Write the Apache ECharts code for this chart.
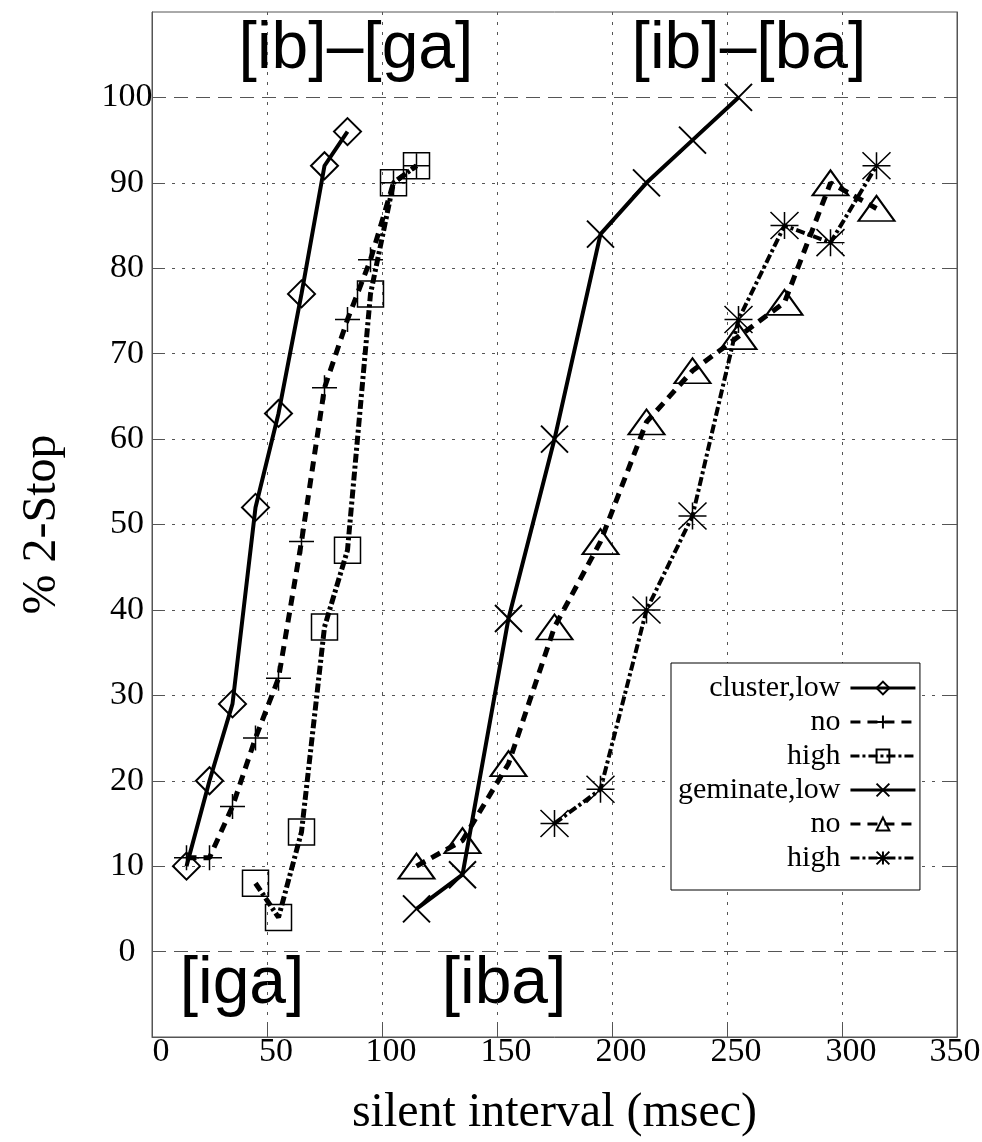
<!DOCTYPE html>
<html>
<head>
<meta charset="utf-8">
<script src="https://cdn.jsdelivr.net/npm/echarts@6/dist/echarts.min.js"></script>
<style>
  html, body { margin: 0; padding: 0; background: #fff; }
  #chart { width: 982px; height: 1142px; }
</style>
</head>
<body>
<div id="chart"></div>
<script>
// silent interval (msec) for each series
var clusterLowX = [15, 25, 35, 45, 55, 65, 75, 85];
var clusterNoX = [15, 25, 35, 45, 55, 65, 75, 85, 95, 105, 115];
var clusterHighX = [45, 55, 65, 75, 85, 95, 105, 115];
var geminateLowX = [115, 135, 155, 175, 195, 215, 235, 255];
var geminateNoX = [115, 135, 155, 175, 195, 215, 235, 255, 275, 295, 315];
var geminateHighX = [175, 195, 215, 235, 255, 275, 295, 315];

// % 2-Stop
var clusterLow = [10, 20, 29, 52, 63, 77, 92, 96];
var clusterNo = [11, 11, 17, 25, 32, 48, 66, 74, 81, 90, 92];
var clusterHigh = [8, 4, 14, 38, 47, 77, 90, 92];
var geminateLow = [5, 9, 39, 60, 84, 90, 95, 100];
var geminateNo = [10, 13, 22, 38, 48, 62, 68, 72, 76, 90, 87];
var geminateHigh = [15, 19, 40, 51, 74, 85, 83, 92];

var yLabels = [0, 10, 20, 30, 40, 50, 60, 70, 80, 90, 100];
var yInnerTicks = [10, 20, 30, 40, 50, 60, 70, 80, 90];
var yDashed = [0, 100];

var serif = '"Liberation Serif", "DejaVu Serif", serif';
var sans = '"Liberation Sans", Arial, sans-serif';
var grey = '#555';

function pairs(xs, ys) {
    return xs.map(function (x, i) { return [x, ys[i]]; });
}

function mkSeries(name, xs, ys, symbol, size, lineType, lineWidth, borderWidth) {
    return {
        name: name,
        type: 'line',
        data: pairs(xs, ys),
        symbol: symbol,
        symbolSize: size,
        showAllSymbol: true,
        itemStyle: { color: 'rgba(0,0,0,0)', borderColor: '#000', borderWidth: borderWidth },
        lineStyle: { color: '#000', width: lineWidth, type: lineType, cap: 'butt' },
        emphasis: { disabled: true }
    };
}

function label(text, x, y) {
    return {
        type: 'text', x: x, y: y,
        style: {
            text: text, font: '66px ' + sans, fill: '#000',
            align: 'center', verticalAlign: 'middle',
            textAlign: 'center', textVerticalAlign: 'middle'
        }
    };
}

var plusPath = 'path://M0,10L20,10M10,0L10,20';
var crossPath = 'path://M0,0L20,20M20,0L0,20';
var starPath = 'path://M0,0L20,20M20,0L0,20M10,0L10,20M0,10L20,10';
var dashed = [10, 7];
var dashDot = [9, 3, 3, 3];

var chart = echarts.init(document.getElementById('chart'));
chart.setOption({
    animation: false,
    backgroundColor: '#fff',
    grid: {
        left: 152, right: 25, top: 12, bottom: 105,
        show: true, borderColor: grey, borderWidth: 1,
        outerBoundsMode: 'none'
    },
    legend: {
        orient: 'vertical',
        align: 'right',
        left: 671,
        top: 663,
        padding: [10, 3, 17, 7],
        itemGap: 4,
        itemWidth: 65,
        itemHeight: 16,
        borderColor: '#000',
        borderWidth: 1,
        backgroundColor: '#fff',
        lineStyle: { width: 3 },
        textStyle: { fontFamily: serif, fontSize: 30, color: '#000', padding: [0, 5, 0, 0] },
        formatter: function (name) {
            return /low$/.test(name) ? name : name.split(',')[1];
        }
    },
    xAxis: {
        type: 'value',
        min: 0, max: 350, interval: 50,
        name: 'silent interval (msec)',
        nameLocation: 'middle',
        nameGap: 52,
        nameTextStyle: { fontFamily: serif, fontSize: 48, color: '#000' },
        axisLine: { onZero: false, lineStyle: { color: grey, width: 1 } },
        axisTick: { inside: true, length: 14, lineStyle: { color: grey } },
        axisLabel: {
            fontFamily: serif, fontSize: 34, color: '#000', margin: -2,
            padding: [0, 0, 0, 18],
            formatter: function (v) { return v === 350 ? '{m|350}' : String(v); },
            rich: { m: { fontFamily: serif, fontSize: 34, color: '#000', padding: [0, 22, 0, 0] } }
        },
        splitLine: { show: true, lineStyle: { color: grey, type: [3, 7], width: 1 } }
    },
    yAxis: [
        {
            type: 'value',
            min: -10, max: 110, interval: 10,
            name: '% 2-Stop',
            nameLocation: 'middle',
            nameGap: 86,
            nameTextStyle: { fontFamily: serif, fontSize: 48, color: '#000' },
            axisLine: { show: true, lineStyle: { color: grey, width: 1 } },
            axisTick: { show: true, inside: true, length: 13, customValues: yInnerTicks, lineStyle: { color: grey } },
            axisLabel: {
                customValues: yLabels,
                fontFamily: serif, fontSize: 34, color: '#000',
                align: 'center', margin: 25, padding: [0, 0, 18, 0]
            },
            splitLine: { show: true, lineStyle: { color: grey, type: [3, 7], width: 1 } }
        },
        {
            type: 'value',
            position: 'right',
            min: -10, max: 110, interval: 10,
            axisLine: { show: true, lineStyle: { color: grey, width: 1 } },
            axisTick: { show: true, inside: true, length: 12, customValues: yLabels, lineStyle: { color: grey } },
            axisLabel: { show: false },
            splitLine: { show: false }
        },
        {
            type: 'value',
            position: 'left',
            min: -10, max: 110, interval: 10,
            axisLine: { show: false },
            axisTick: { show: true, inside: true, length: 13, customValues: yDashed, lineStyle: { color: grey } },
            axisLabel: { show: false },
            splitLine: { show: true, lineStyle: { color: grey, type: [14, 8], width: 1 } }
        }
    ],
    graphic: [
        label('[ib]\u2013[ga]', 356, 50),
        label('[ib]\u2013[ba]', 749, 50),
        label('[iga]', 242, 985),
        label('[iba]', 504, 985)
    ],
    series: [
        mkSeries('cluster,low', clusterLowX, clusterLow, 'diamond', [27, 27], 'solid', 4, 2),
        mkSeries('cluster,no', clusterNoX, clusterNo, plusPath, [25, 25], dashed, 5, 1.5),
        mkSeries('cluster,high', clusterHighX, clusterHigh, 'rect', [26, 26], dashDot, 5, 1.5),
        mkSeries('geminate,low', geminateLowX, geminateLow, crossPath, [27, 27], 'solid', 4, 2),
        mkSeries('geminate,no', geminateNoX, geminateNo, 'triangle', [36, 25], dashed, 5, 2),
        mkSeries('geminate,high', geminateHighX, geminateHigh, starPath, [28, 27], dashDot, 4, 1.5)
    ]
});

window.addEventListener('resize', function () {
    chart.resize();
});
</script>
</body>
</html>
